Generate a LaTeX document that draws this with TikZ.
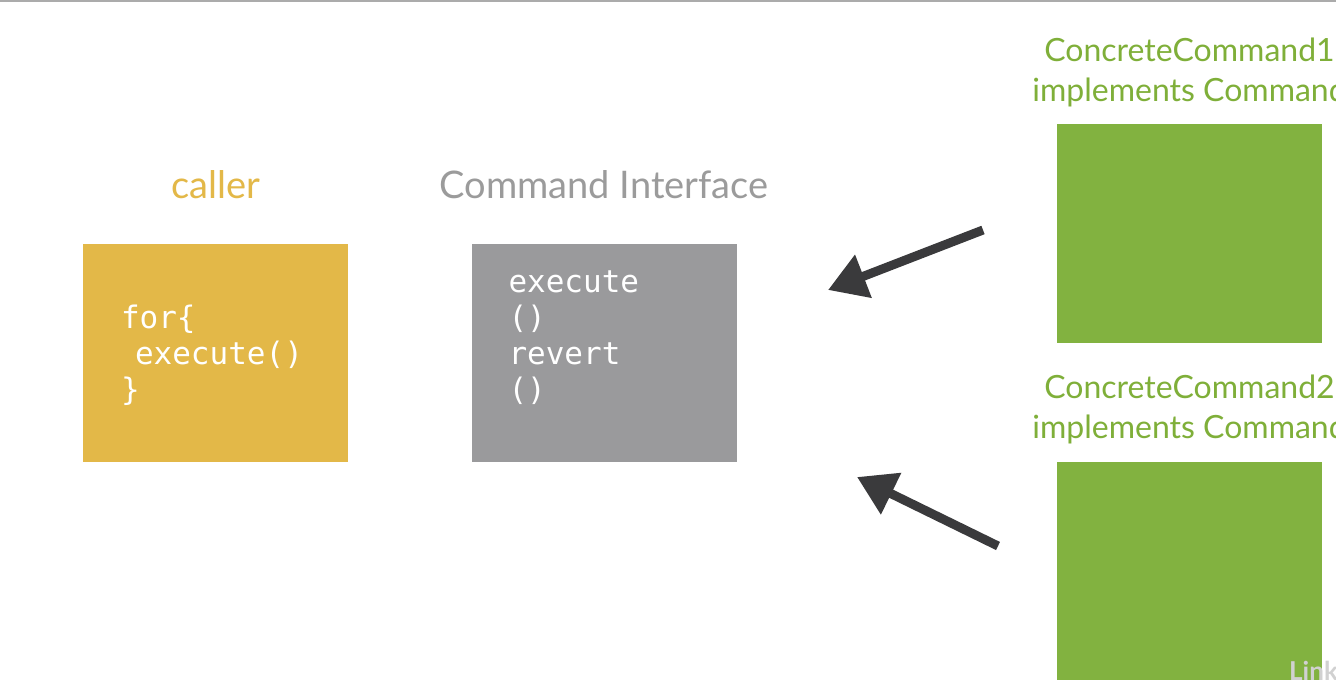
\documentclass[tikz,border=0pt]{standalone}
\usepackage{fontspec}
\setmainfont{Lato}
\newfontfamily\codefont{DejaVu Sans Mono}
\usepackage{tikz}
\usetikzlibrary{arrows.meta,positioning}

\definecolor{callergold}{RGB}{227,184,72}
\definecolor{ifacegray}{RGB}{154,154,156}
\definecolor{labelgray}{RGB}{155,155,155}
\definecolor{concretegreen}{RGB}{130,178,64}
\definecolor{labelgreen}{RGB}{127,175,57}
\definecolor{arrowdark}{RGB}{58,58,60}

\begin{document}
\begin{tikzpicture}[x=1pt,y=-1pt,
  box/.style={rectangle,draw=none,minimum width=265pt,minimum height=218pt,inner sep=0pt},
  code/.style={font=\codefont\fontsize{31}{36}\selectfont,text=white,align=left,anchor=west,inner sep=0pt},
  title/.style={font=\fontsize{38}{40}\selectfont,inner sep=0pt,align=center},
  greentitle/.style={title,font=\fontsize{32}{40}\selectfont,text=labelgreen},
  pointer/.style={draw=arrowdark,line width=9pt,-{Triangle[length=38pt,width=44pt]}}]
\useasboundingbox[fill=white] (0,0) rectangle (1336,687);
\draw[draw=black!33,line width=2pt] (0,1) -- (1336,1);
% left part
\node[box,fill=callergold] (caller) at (215.5,353) {};
\node[title,text=callergold] (callerlabel) at (215.5,185) {caller};
\node[code] (callercode) at ([xshift=38pt,yshift=-2pt]caller.west) {for\{\\\hspace*{14pt}execute()\\\}};
\node[box,fill=ifacegray] (cmdif) at (604,353) {};
\node[title,text=labelgray] (cmdiflabel) at (604,185) {Command Interface};
\node[code] (cmdifcode) at ([xshift=37pt,yshift=15pt]cmdif.west) {execute\\()\\revert\\()};
% right part
\node[box,fill=concretegreen] (concrete1) at (1189.5,233.5) {};
\node[greentitle] (concrete1label) at (1189.5,72) {ConcreteCommand1\\implements Command};
\node[box,fill=concretegreen] (concrete2) at (1189.5,571) {};
\node[greentitle] (concrete2label) at (1189.5,409) {ConcreteCommand2\\implements Command};
% arrows
\coordinate (from1) at (983,230);
\coordinate (to1) at (828,290);
\coordinate (from2) at (998,546);
\coordinate (to2) at (857,477);
\draw[pointer] (from1) -- (to1);
\draw[pointer] (from2) -- (to2);
\node[font=\bfseries\fontsize{26}{30}\selectfont,text=black!18,anchor=west,inner sep=0pt] (mark) at (1289,671) {Link};
\end{tikzpicture}
\end{document}
